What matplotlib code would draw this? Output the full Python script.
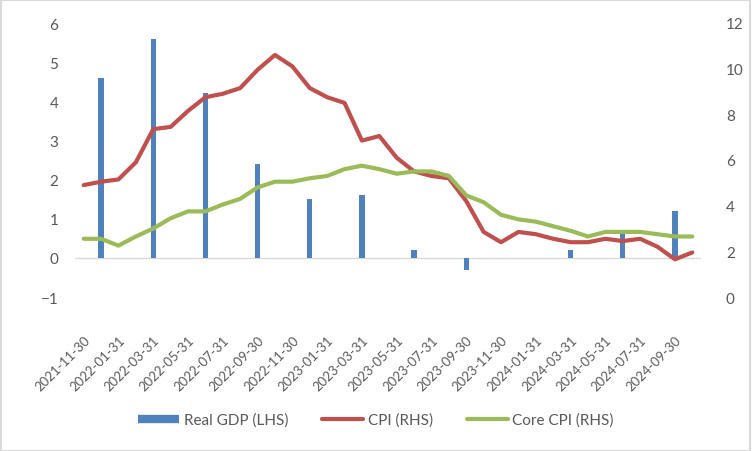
import pandas as pd
import matplotlib.pyplot as plt
from matplotlib.lines import Line2D
from matplotlib.patches import Rectangle

plt.rcParams["font.family"] = ["Lato", "DejaVu Sans"]

# monthly categories (month ends), Nov 2021 .. Oct 2024
months = pd.date_range("2021-11-30", periods=36, freq="ME")

tick_labels = ["2021-11-30", "2022-01-31", "2022-03-31", "2022-05-31", "2022-07-31",
               "2022-09-30", "2022-11-30", "2023-01-31", "2023-03-31", "2023-05-31",
               "2023-07-31", "2023-09-30", "2023-11-30", "2024-01-31", "2024-03-31",
               "2024-05-31", "2024-07-31", "2024-09-30"]

# quarterly real GDP, % (LHS)
gdp_months = ["2021-12-31", "2022-03-31", "2022-06-30", "2022-09-30", "2022-12-31",
              "2023-03-31", "2023-06-30", "2023-09-30", "2023-12-31", "2024-03-31",
              "2024-06-30", "2024-09-30"]
gdp = [4.6, 5.6, 4.2, 2.4, 1.5, 1.6, 0.2, -0.3, 0.0, 0.2, 0.6, 1.2]

# CPI and core CPI, % (RHS)
cpi = [4.9, 5.05, 5.15, 5.9, 7.35, 7.45, 8.15, 8.75, 8.9, 9.15, 9.95, 10.6,
       10.1, 9.15, 8.75, 8.5, 6.85, 7.05, 6.1, 5.5, 5.3, 5.2, 4.2, 2.85,
       2.4, 2.85, 2.75, 2.55, 2.4, 2.4, 2.55, 2.45, 2.55, 2.2, 1.65, 1.95]
core_cpi = [2.55, 2.55, 2.25, 2.65, 3.0, 3.45, 3.75, 3.75, 4.05, 4.3, 4.8, 5.05,
            5.05, 5.2, 5.3, 5.6, 5.75, 5.6, 5.4, 5.5, 5.5, 5.3, 4.45, 4.15,
            3.6, 3.4, 3.3, 3.1, 2.9, 2.65, 2.85, 2.85, 2.85, 2.75, 2.65, 2.65]

blue = "#4F81BD"
red = "#C0504D"
green = "#9BBB59"
grey_text = "#595959"

x = list(range(len(months)))
month_str = [m.strftime("%Y-%m-%d") for m in months]
gdp_x = [month_str.index(m) for m in gdp_months]

fig = plt.figure(figsize=(7.52, 4.52), dpi=100)
ax = fig.add_axes([75 / 752, 1 - 298 / 452, 626 / 752, 274 / 452])
ax2 = ax.twinx()

ax.bar(gdp_x, gdp, width=0.3, color=blue, zorder=2)
ax.axhline(0, color="#D9D9D9", lw=1, zorder=1)
ax2.plot(x, cpi, color=red, lw=3, solid_joinstyle="round", solid_capstyle="round")
ax2.plot(x, core_cpi, color=green, lw=3, solid_joinstyle="round", solid_capstyle="round")

ax.set_xlim(-0.5, len(months) - 0.5)
ax.set_ylim(-1, 6)
ax2.set_ylim(0, 12)
ax.set_yticks(range(-1, 7))
ax2.set_yticks(range(0, 13, 2))

ax.set_xticks(x[::2])
ax.set_xticklabels(tick_labels, rotation=45, ha="right", rotation_mode="anchor")

for a in (ax, ax2):
    for s in a.spines.values():
        s.set_visible(False)
    a.tick_params(length=0, labelsize=11, colors=grey_text)
ax.tick_params(axis="y", pad=12)
ax2.tick_params(axis="y", pad=18)
ax.tick_params(axis="x", pad=26, labelsize=9.5)

handles = [Line2D([], [], color=blue, lw=6, solid_capstyle="butt"),
           Line2D([], [], color=red, lw=3, solid_capstyle="round"),
           Line2D([], [], color=green, lw=3, solid_capstyle="round")]
fig.legend(handles, ["Real GDP (LHS)", "CPI (RHS)", "Core CPI (RHS)"],
           loc="center", bbox_to_anchor=(0.5, 1 - 421 / 452), ncol=3,
           frameon=False, fontsize=11, labelcolor=grey_text,
           handlelength=2.7, handletextpad=0.3, columnspacing=2.2)

fig.patches.append(Rectangle((0.001, 0.001), 0.997, 0.997, transform=fig.transFigure,
                             fill=False, edgecolor="#D9D9D9", lw=1.5))

plt.savefig("out.png", dpi=100)
